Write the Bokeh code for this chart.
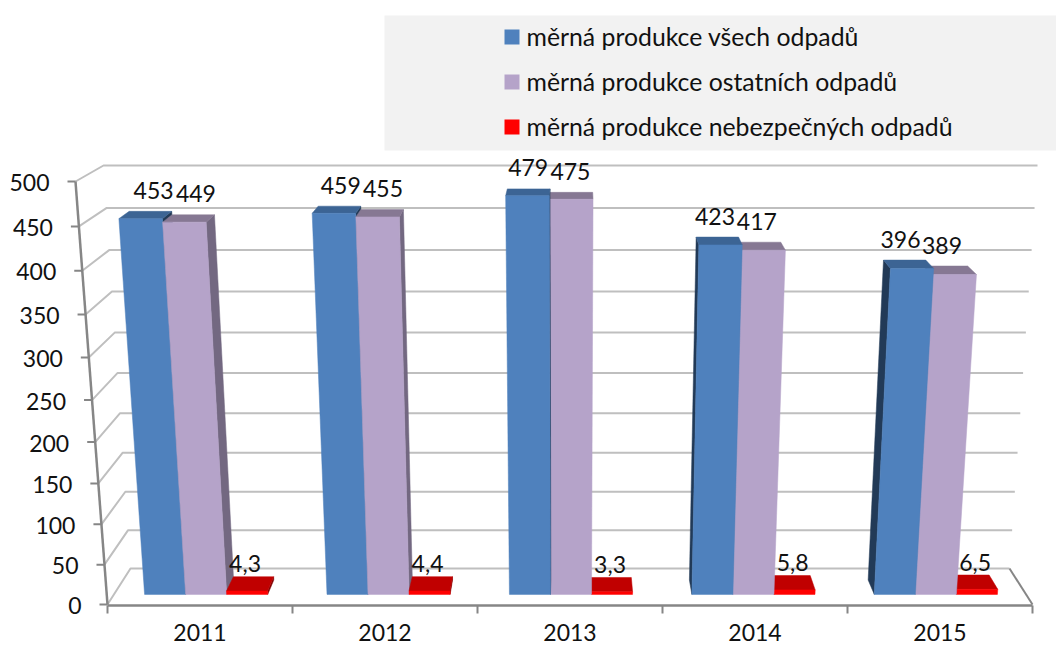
import numpy as np
from bokeh.plotting import figure
from bokeh.models import Range1d, LinearAxis, FixedTicker
from bokeh.core.properties import value
from bokeh.embed import file_html
from bokeh.resources import INLINE

years = ["2011", "2012", "2013", "2014", "2015"]
vsech = [453, 459, 479, 423, 396]
ostatnich = [449, 455, 475, 417, 389]
nebezpecnych = [4.3, 4.4, 3.3, 5.8, 6.5]
value_labels = [["453", "459", "479", "423", "396"],
                ["449", "455", "475", "417", "389"],
                ["4,3", "4,4", "3,3", "5,8", "6,5"]]
series_names = ["měrná produkce všech odpadů", "měrná produkce ostatních odpadů", "měrná produkce nebezpečných odpadů"]
y_ticks = [0, 50, 100, 150, 200, 250, 300, 350, 400, 450, 500]
series = [vsech, ostatnich, nebezpecnych]

FONT = value("Lato")
TXT = "#111111"
LABEL_SIZE = "23px"
# colours: front, top, side
COL = [("#4F81BD", "#3C6494", "#223A57"),
       ("#B5A3C9", "#867893", "#736881"),
       ("#FF0000", "#C00000", "#800000")]

# projection of the 3D box onto the page
FRONT = [(107, 604), (1032, 604), (1064, 181), (75, 181)]
BACK = [(130, 568), (1009, 568), (1037, 165), (103, 165)]
YMAX = 500.0


def homography(q):
    src = [(0, 0), (1, 0), (1, 1), (0, 1)]
    A, b = [], []
    for (u, v), (x, y) in zip(src, q):
        A.append([u, v, 1, 0, 0, 0, -u * x, -v * x]); b.append(x)
        A.append([0, 0, 0, u, v, 1, -u * y, -v * y]); b.append(y)
    h = np.linalg.solve(np.array(A, float), np.array(b, float))
    return np.append(h, 1).reshape(3, 3)


HF, HB = homography(FRONT), homography(BACK)


def app(H, u, v):
    r = H @ np.array([u, v, 1.0])
    return r[:2] / r[2]


def proj(u, val, d):
    v = val / YMAX
    a, b = app(HF, u, v), app(HB, u, v)
    return a + (b - a) * d


p = figure(width=1056, height=648, output_backend="svg", toolbar_location=None,
           x_range=Range1d(0, 1056), y_range=Range1d(648, 0),
           min_border_left=0, min_border_right=0, min_border_top=0, min_border_bottom=0,
           outline_line_color=None, background_fill_color="white")
p.xaxis.visible = False
p.yaxis.visible = False
p.xgrid.visible = False
p.ygrid.visible = False

# legend panel
p.quad(left=384, right=1056, top=15, bottom=150, fill_color="#F2F2F2", line_color=None)
for name, c, ly in zip(series_names, COL, [37, 82, 127]):
    p.quad(left=504, right=519, top=ly - 8, bottom=ly + 7, fill_color=c[0], line_color=None)
    p.text([526], [ly - 1], text=[name], text_font=FONT, text_font_size="24.8px", text_color=TXT,
           text_baseline="middle", text_align="left")

# walls
GRID = "#BFBFBF"
AX = "#868686"
for t in y_ticks:
    a, b, c = proj(0, t, 0), proj(0, t, 1), proj(1, t, 1)
    p.line([a[0], b[0], c[0]], [a[1], b[1], c[1]], line_color=GRID, line_width=2)
# floor right edge, left axis, ticks
a, b = proj(1, 0, 0), proj(1, 0, 1)
p.line([a[0], b[0]], [a[1], b[1]], line_color=AX, line_width=2)
a, b = proj(0, 0, 0), proj(0, YMAX, 0)
p.line([a[0], b[0]], [a[1], b[1]], line_color=AX, line_width=2.5)
for t in y_ticks:
    a = proj(0, t, 0)
    p.line([a[0] - 8, a[0]], [a[1], a[1]], line_color=AX, line_width=2)
    p.text([a[0] - 26], [a[1] + 1], text=[str(t)], text_font=FONT, text_font_size=LABEL_SIZE,
           text_color=TXT, text_align="right", text_baseline="middle")

# bars
D0, D1 = 0.28, 0.68
GAP, W = 0.168, 0.225


def bar_faces(i, j):
    u0 = (i + GAP + j * W) / 5
    u1 = (i + GAP + (j + 1) * W) / 5
    val = series[j][i]
    fbl, fbr = proj(u0, 0, D0), proj(u1, 0, D0)
    ftl, ftr = proj(u0, val, D0), proj(u1, val, D0)
    bbl, bbr = proj(u0, 0, D1), proj(u1, 0, D1)
    btl, btr = proj(u0, val, D1), proj(u1, val, D1)
    faces = []
    if btl[0] < ftl[0]:
        faces.append(([fbl, ftl, btl, bbl], COL[j][2]))
    if btr[0] > ftr[0]:
        faces.append(([fbr, ftr, btr, bbr], COL[j][2]))
    faces.append(([ftl, ftr, btr, btl], COL[j][1]))
    faces.append(([fbl, fbr, ftr, ftl], COL[j][0]))
    return faces


for i in range(len(years)):
    order = [0, 1, 2] if i < 2 else [2, 1, 0]
    for j in order:
        for pts, col in bar_faces(i, j):
            p.patch([q[0] for q in pts], [q[1] for q in pts], fill_color=col, line_color=col, line_width=0.5)

# value labels
for i in range(len(years)):
    for j in range(3):
        u = (i + GAP + (j + 0.5) * W) / 5
        val = series[j][i]
        if j < 2:
            x = proj(u, val, 0.85)[0] - 1
            y = proj(u, val, D1)[1] - 21
        else:
            x = proj(u, val, D0)[0] - 2
            y = proj(u, val, D1)[1] - 13
        p.text([x], [y], text=[value_labels[j][i]], text_font=FONT, text_font_size=LABEL_SIZE,
               text_color=TXT, text_align="center", text_baseline="middle")

# real axis on the front floor edge: category dividers as ticks, year names centred between them
edges = [float(proj(k / 5, 0, 0)[0]) for k in range(6)]
centres = [(edges[k] + edges[k + 1]) / 2 for k in range(5)]
ax = LinearAxis(ticker=FixedTicker(ticks=[], minor_ticks=edges), bounds=(edges[0], edges[-1]),
                fixed_location=605,
                minor_tick_out=8, minor_tick_in=0,
                axis_line_color=AX, axis_line_width=2.5,
                minor_tick_line_color=AX, minor_tick_line_width=2)
p.add_layout(ax, "below")
p.text(centres, [632] * len(centres), text=years, text_font=FONT, text_font_size=LABEL_SIZE,
       text_color=TXT, text_align="center", text_baseline="middle")

open("out.html", "w").write(file_html(p, INLINE))
